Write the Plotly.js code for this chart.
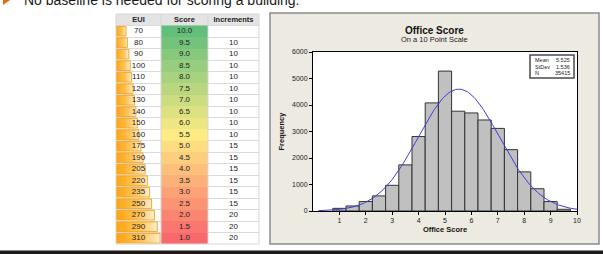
<!DOCTYPE html>
<html>
<head>
<meta charset="utf-8">
<script src="https://cdn.plot.ly/plotly-3.0.1.min.js"></script>
<style>
  html, body { margin: 0; padding: 0; background: #fff; }
  #chart { width: 603px; height: 254px; }
</style>
</head>
<body>
<div id="chart"></div>
<script>
// ---- EUI to score lookup table ----
const tableHeaders = ['EUI', 'Score', 'Increments'];
const euiValues = [70, 80, 90, 100, 110, 120, 130, 140, 150, 160, 175, 190, 205, 220, 235, 250, 270, 290, 310];
const scoreValues = [10.0, 9.5, 9.0, 8.5, 8.0, 7.5, 7.0, 6.5, 6.0, 5.5, 5.0, 4.5, 4.0, 3.5, 3.0, 2.5, 2.0, 1.5, 1.0];
const incrementValues = ['', 10, 10, 10, 10, 10, 10, 10, 10, 10, 15, 15, 15, 15, 15, 15, 20, 20, 20];

// ---- Office score histogram (bins of width 0.5) ----
const binCenters = [1.0, 1.5, 2.0, 2.5, 3.0, 3.5, 4.0, 4.5, 5.0, 5.5, 6.0, 6.5, 7.0, 7.5, 8.0, 8.5, 9.0, 9.5];
const binCounts = [100, 190, 356, 570, 970, 1740, 2810, 4080, 5280, 3766, 3700, 3435, 3117, 2315, 1476, 840, 356, 65];
const binWidth = 0.5;
const fitMean = 5.525;
const fitStDev = 1.536;
const fitN = 35415;
const statLabels = ['Mean', 'StDev', 'N'];
const statValues = ['5.525', '1.536', '35415'];
const xTickValues = [1, 2, 3, 4, 5, 6, 7, 8, 9, 10];
const yTickValues = [0, 1000, 2000, 3000, 4000, 5000, 6000];

// ---- page geometry helpers (pixels -> paper fractions) ----
const W = 603, H = 254;
const px = v => v / W;
const py = v => 1 - v / H;

const FONT = 'Liberation Sans, Arial, sans-serif';
const traces = [];

// Row index 0 is the header; data rows are 1..19
const rows = euiValues.map((_, i) => i + 1);

// EUI data bars (gradient fill, one closed shape per row)
euiValues.forEach((v, i) => {
  const r = rows[i];
  traces.push({
    type: 'scatter', mode: 'lines', xaxis: 'x2', yaxis: 'y2',
    x: [0, v, v, 0, 0],
    y: [r - 0.42, r - 0.42, r + 0.42, r + 0.42, r - 0.42],
    fill: 'toself',
    fillgradient: { type: 'horizontal', start: 0, stop: v,
      colorscale: [[0, '#ffa20c'], [0.6, '#ffc55a'], [1, '#ffefcf']] },
    line: { color: '#f4a21c', width: 0.9 },
    hoverinfo: 'skip'
  });
});

// Score column: three-colour scale red -> yellow -> green
traces.push({
  type: 'heatmap', xaxis: 'x3', yaxis: 'y2',
  x: [0], y: rows, z: scoreValues.map(s => [s]),
  zmin: 1, zmax: 10,
  colorscale: [[0, '#f8696b'], [0.5, '#ffeb84'], [1, '#63be7b']],
  showscale: false, hoverinfo: 'skip'
});

// Table text
const cellFont = { family: FONT, size: 8, color: '#222' };
const headFont = { family: FONT, size: 7.5, color: '#222', weight: 'bold' };
traces.push({
  type: 'scatter', mode: 'text', xaxis: 'x2', yaxis: 'y2',
  x: euiValues.map(() => 158), y: rows, text: euiValues.map(String),
  textfont: cellFont, hoverinfo: 'skip'
});
traces.push({
  type: 'scatter', mode: 'text', xaxis: 'x3', yaxis: 'y2',
  x: scoreValues.map(() => 0), y: rows, text: scoreValues.map(s => s.toFixed(1)),
  textfont: cellFont, hoverinfo: 'skip'
});
traces.push({
  type: 'scatter', mode: 'text', xaxis: 'x4', yaxis: 'y2',
  x: incrementValues.map(() => 0.5), y: rows, text: incrementValues.map(String),
  textfont: cellFont, hoverinfo: 'skip'
});
[['x2', 158], ['x3', 0], ['x4', 0.5]].forEach(([ax, cx], k) => {
  traces.push({
    type: 'scatter', mode: 'text', xaxis: ax, yaxis: 'y2',
    x: [cx], y: [0], text: [tableHeaders[k]],
    textfont: headFont, hoverinfo: 'skip'
  });
});

// Histogram bars
traces.push({
  type: 'bar', x: binCenters, y: binCounts, width: binWidth,
  marker: { color: '#c0c0c0', line: { color: '#333333', width: 1 } },
  hoverinfo: 'skip'
});

// Fitted normal curve from the stated mean, standard deviation and N
const fitX = [], fitY = [];
for (let x = 0.2; x <= 10.0001; x += 0.05) {
  const z = (x - fitMean) / fitStDev;
  fitX.push(x);
  fitY.push(fitN * binWidth * Math.exp(-0.5 * z * z) / (fitStDev * Math.sqrt(2 * Math.PI)));
}
traces.push({
  type: 'scatter', mode: 'lines', x: fitX, y: fitY,
  line: { color: '#3d3ddb', width: 1 }, hoverinfo: 'skip'
});

const hidden = { visible: false, showgrid: false, zeroline: false, fixedrange: true };

const shapes = [
  // chart panel
  { type: 'rect', xref: 'paper', yref: 'paper', layer: 'below',
    x0: px(270), x1: px(599), y0: py(244), y1: py(13),
    fillcolor: '#edeae2', line: { color: '#8c8c8c', width: 1.5 } },
  // white data region
  { type: 'rect', xref: 'paper', yref: 'paper', layer: 'below',
    x0: px(313), x1: px(577), y0: py(211), y1: py(52),
    fillcolor: '#ffffff', line: { width: 0 } },
  // table header band
  { type: 'rect', xref: 'paper', yref: 'paper', layer: 'below',
    x0: px(116), x1: px(259), y0: py(25.5), y1: py(14),
    fillcolor: '#e4e4e4', line: { width: 0 } }
];
// table column separators and outer edges
[116, 161, 208, 259].forEach(xv => shapes.push({
  type: 'line', xref: 'paper', yref: 'paper', layer: 'above',
  x0: px(xv), x1: px(xv), y0: py(244), y1: py(14),
  line: { color: '#d6d6d6', width: 1 }
}));
[14, 244].forEach(yv => shapes.push({
  type: 'line', xref: 'paper', yref: 'paper', layer: 'above',
  x0: px(116), x1: px(259), y0: py(yv), y1: py(yv),
  line: { color: '#d6d6d6', width: 1 }
}));
// statistics box
shapes.push({ type: 'rect', xref: 'paper', yref: 'paper', layer: 'above',
  x0: px(530), x1: px(574), y0: py(78), y1: py(55),
  fillcolor: '#ffffff', line: { color: '#4a4a4a', width: 1.5 } });
// heading bullet
shapes.push({ type: 'path', xref: 'paper', yref: 'paper', layer: 'above',
  path: `M ${px(3)} ${py(-7)} L ${px(11.5)} ${py(-1)} L ${px(3)} ${py(5)} Z`,
  fillcolor: '#e06d10', line: { width: 0 } });
// slide footer rule
shapes.push({ type: 'rect', xref: 'paper', yref: 'paper', layer: 'above',
  x0: 0, x1: 1, y0: 0, y1: py(250.5),
  fillcolor: '#1a1a1a', line: { width: 0 } });

const annotations = [
  { text: 'No baseline is needed for scoring a building.', xref: 'paper', yref: 'paper',
    x: px(22), y: py(-0.5), xanchor: 'left', yanchor: 'middle', showarrow: false,
    font: { family: FONT, size: 14, color: '#1a1a1a' } },
  { text: 'Office Score', xref: 'paper', yref: 'paper', x: px(434), y: py(30),
    xanchor: 'center', yanchor: 'middle', showarrow: false,
    font: { family: FONT, size: 10, color: '#111', weight: 'bold' } },
  { text: 'On a 10 Point Scale', xref: 'paper', yref: 'paper', x: px(434), y: py(39.5),
    xanchor: 'center', yanchor: 'middle', showarrow: false,
    font: { family: FONT, size: 7.5, color: '#222' } }
];
statLabels.forEach((lab, i) => {
  const yy = 60 + i * 6.6;
  annotations.push({ text: lab, xref: 'paper', yref: 'paper', x: px(533), y: py(yy),
    xanchor: 'left', yanchor: 'middle', showarrow: false,
    font: { family: FONT, size: 5.5, color: '#222' } });
  annotations.push({ text: statValues[i], xref: 'paper', yref: 'paper', x: px(571.5), y: py(yy),
    xanchor: 'right', yanchor: 'middle', showarrow: false,
    font: { family: FONT, size: 5.5, color: '#222' } });
});

const layout = {
  width: W, height: H,
  margin: { l: 0, r: 0, t: 0, b: 0, pad: 0 },
  paper_bgcolor: '#ffffff', plot_bgcolor: 'rgba(0,0,0,0)',
  showlegend: false, hovermode: false, barmode: 'overlay',
  xaxis: {
    domain: [px(313), px(577)], range: [0, 10], anchor: 'y',
    tickmode: 'array', tickvals: xTickValues, ticks: 'outside', ticklen: 3, tickcolor: '#000',
    showline: true, mirror: true, linecolor: '#000', linewidth: 1,
    showgrid: false, zeroline: false,
    tickfont: { family: FONT, size: 7, color: '#222' },
    title: { text: 'Office Score', standoff: 3,
      font: { family: FONT, size: 7.5, color: '#111', weight: 'bold' } }
  },
  yaxis: {
    domain: [py(211), py(52)], range: [0, 6000], anchor: 'x',
    tickmode: 'array', tickvals: yTickValues, ticks: 'outside', ticklen: 3, tickcolor: '#000',
    showline: true, mirror: true, linecolor: '#000', linewidth: 1,
    showgrid: false, zeroline: false,
    tickfont: { family: FONT, size: 7, color: '#222' },
    title: { text: 'Frequency', standoff: 6,
      font: { family: FONT, size: 7.5, color: '#111', weight: 'bold' } }
  },
  yaxis2: {
    domain: [py(244), py(14)], range: [19.5, -0.5], anchor: 'x2',
    tickmode: 'array', tickvals: rows.map(r => r - 0.5), showticklabels: false, ticks: '',
    showgrid: true, gridcolor: '#dadada', gridwidth: 1, zeroline: false, showline: false
  },
  xaxis2: Object.assign({ domain: [px(116), px(161)], range: [0, 316], anchor: 'y2' }, hidden),
  xaxis3: Object.assign({ domain: [px(161), px(208)], range: [-0.5, 0.5], anchor: 'y2' }, hidden),
  xaxis4: Object.assign({ domain: [px(208), px(259)], range: [0, 1], anchor: 'y2' }, hidden),
  shapes: shapes,
  annotations: annotations
};

Plotly.newPlot('chart', traces, layout, { staticPlot: true, displayModeBar: false });
</script>
</body>
</html>
